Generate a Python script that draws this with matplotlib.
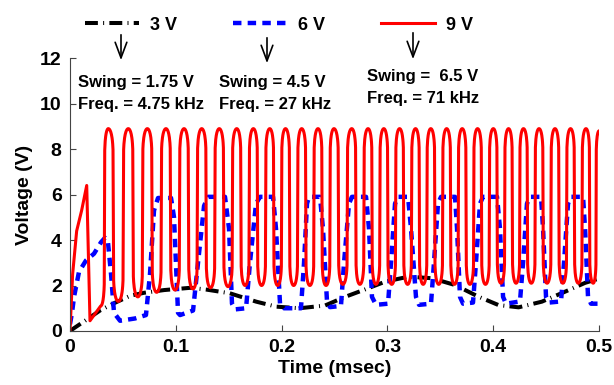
import numpy as np
import matplotlib
matplotlib.use("Agg")
import matplotlib.pyplot as plt

plt.rcParams['font.family'] = ['Liberation Sans', 'DejaVu Sans']
plt.rcParams['font.weight'] = 'bold'

# 3 V supply: slow output (time in msec, voltage in V)
t_3v = [0, 0.004, 0.018, 0.029, 0.042, 0.057, 0.070, 0.089, 0.114, 0.129, 0.151,
        0.176, 0.195, 0.217, 0.241, 0.260, 0.279, 0.298, 0.320, 0.342, 0.364,
        0.386, 0.405, 0.424, 0.446, 0.468, 0.487, 0.5]
v_3v = [0.0, 0.13, 0.57, 0.92, 1.23, 1.55, 1.68, 1.8, 1.9, 1.82, 1.66,
        1.29, 1.07, 1.0, 1.12, 1.5, 1.83, 2.17, 2.39, 2.32, 2.02,
        1.51, 1.14, 1.04, 1.29, 1.73, 2.12, 2.3]

# 6 V supply
t_6v = [0, 0.0019, 0.0038, 0.0085, 0.0151, 0.0227, 0.0293, 0.0331, 0.0359, 0.0388,
        0.0416, 0.0473, 0.0614, 0.0718, 0.0756, 0.0794, 0.0832, 0.0955, 0.0983, 0.1021,
        0.1040, 0.1163, 0.1210, 0.1267, 0.1304, 0.1465, 0.1503, 0.1531, 0.1560, 0.1664,
        0.1701, 0.1758, 0.1796, 0.1919, 0.1947, 0.1985, 0.2023, 0.2183, 0.2212, 0.2240,
        0.2259, 0.2363, 0.2391, 0.2429, 0.2457, 0.2561, 0.2590, 0.2637, 0.2665, 0.2798,
        0.2826, 0.2854, 0.2892, 0.3006, 0.3034, 0.3072, 0.3100, 0.3195, 0.3223, 0.3270,
        0.3299, 0.3412, 0.3440, 0.3478, 0.3507, 0.3639, 0.3658, 0.3686, 0.3715, 0.3809,
        0.3837, 0.3875, 0.3904, 0.4036, 0.4064, 0.4093, 0.4121, 0.4253, 0.4282, 0.4319,
        0.4348, 0.4452, 0.4471, 0.4499, 0.4527, 0.4641, 0.4669, 0.4707, 0.4735, 0.4849,
        0.4868, 0.4896, 0.4924, 0.5]
v_6v = [0.3, 0.8, 1.5, 2.6, 3.1, 3.4, 3.9, 4.1, 3.9, 2.5,
        0.8, 0.45, 0.55, 0.7, 2.5, 5.3, 5.85, 5.85, 5.0, 0.8,
        0.7, 0.9, 3.0, 5.5, 5.9, 5.9, 4.5, 1.2, 0.95, 1.0,
        3.0, 5.6, 5.9, 5.9, 4.5, 1.2, 1.0, 1.0, 3.0, 5.6,
        5.9, 5.9, 4.5, 1.3, 1.05, 1.1, 3.0, 5.6, 5.9, 5.9,
        4.5, 1.5, 1.15, 1.2, 3.0, 5.6, 5.9, 5.9, 4.5, 1.5,
        1.15, 1.2, 3.0, 5.6, 5.9, 5.9, 4.5, 1.5, 1.2, 1.25,
        3.0, 5.6, 5.9, 5.9, 4.5, 1.5, 1.2, 1.3, 3.0, 5.6,
        5.9, 5.9, 4.5, 1.5, 1.25, 1.3, 3.0, 5.6, 5.9, 5.9,
        4.5, 1.5, 1.2, 1.2]

# 9 V supply: start-up transient, then peak / trough turning points
t_9v_start = [0, 0.0025, 0.0063, 0.011, 0.0158, 0.0189, 0.029]
v_9v_start = [0.0, 2.5, 4.4, 5.3, 6.4, 0.45, 1.1]
t_9v_peak = [0.0362, 0.0551, 0.0731, 0.0907, 0.1078, 0.1245, 0.1411, 0.1576, 0.1733, 0.1888,
             0.2037, 0.2190, 0.2344, 0.2495, 0.2663, 0.2817, 0.2966, 0.3115, 0.3266, 0.3410,
             0.3560, 0.3707, 0.3852, 0.4001, 0.4145, 0.4286, 0.4433, 0.4584, 0.4731, 0.4877]
v_9v_peak = [8.9] * 30
t_9v_trough = [0.0457, 0.0641, 0.0819, 0.0993, 0.1162, 0.1328, 0.1494, 0.1655, 0.1811, 0.1963,
               0.2114, 0.2267, 0.2420, 0.2579, 0.2740, 0.2892, 0.3041, 0.3191, 0.3338, 0.3485,
               0.3634, 0.3780, 0.3927, 0.4073, 0.4216, 0.4360, 0.4509, 0.4658, 0.4804, 0.4945]
v_9v_trough = [1.3, 1.5, 1.7, 1.8, 1.85, 1.9, 1.95, 2.0, 2.0, 2.0,
               2.0, 2.0, 2.0, 2.05, 2.05, 2.05, 2.05, 2.05, 2.05, 2.05,
               2.05, 2.05, 2.05, 2.1, 2.1, 2.1, 2.1, 2.1, 2.1, 2.1]
t_9v_end, v_9v_end = 0.5, 8.8

notes = [("Swing = 1.75 V", "Freq. = 4.75 kHz"),
         ("Swing = 4.5 V", "Freq. = 27 kHz"),
         ("Swing =  6.5 V", "Freq. = 71 kHz")]


def squared_path(tv, vv, p=0.12, n=32):
    # join turning points with a flattened half-cosine (steep edges, flat tops)
    ts, vs = [], []
    s = np.linspace(0, 1, n, endpoint=False)
    c = np.cos(np.pi * s)
    g = 0.5 - 0.5 * np.sign(c) * np.abs(c) ** p
    for i in range(len(tv) - 1):
        ts.append(tv[i] + (tv[i + 1] - tv[i]) * s)
        vs.append(vv[i] + (vv[i + 1] - vv[i]) * g)
    ts.append([tv[-1]])
    vs.append([vv[-1]])
    return np.concatenate(ts), np.concatenate(vs)


turn_t = [t_9v_start[-1]]
turn_v = [v_9v_start[-1]]
for tp, vp, tt, vt in zip(t_9v_peak, v_9v_peak, t_9v_trough, v_9v_trough):
    turn_t += [tp, tt]
    turn_v += [vp, vt]
turn_t.append(t_9v_end)
turn_v.append(v_9v_end)
osc_t, osc_v = squared_path(turn_t, turn_v)
t_9v = np.concatenate([t_9v_start[:-1], osc_t])
v_9v = np.concatenate([v_9v_start[:-1], osc_v])

fig = plt.figure(figsize=(6.14, 3.85), dpi=100)
ax = fig.add_axes([0.114, 0.1403, 0.8616, 0.7087])

l3, = ax.plot(t_3v, v_3v, color='black', lw=2.9,
              linestyle=(0, (3.2, 1.3, 0.25, 1.3)), dash_capstyle='butt', label='3 V')
l6, = ax.plot(t_6v, v_6v, color='blue', lw=3.2,
              linestyle=(0, (1.9, 1.4)), dash_capstyle='butt', label='6 V')
l9, = ax.plot(t_9v, v_9v, color='red', lw=2.2, label='9 V')

ax.set_xlim(0, 0.5)
ax.set_ylim(0, 12)
ax.set_xticks([0, 0.1, 0.2, 0.3, 0.4, 0.5])
ax.set_xticklabels(['0', '0.1', '0.2', '0.3', '0.4', '0.5'])
ax.set_yticks([0, 2, 4, 6, 8, 10, 12])
ax.tick_params(direction='in', length=4, width=0.8, color='#444444', labelsize=14, pad=6)
for lab in ax.get_xticklabels() + ax.get_yticklabels():
    lab.set_fontweight('bold')
ax.spines['top'].set_visible(False)
ax.spines['right'].set_visible(False)
for sp in ('left', 'bottom'):
    ax.spines[sp].set_color('#444444')
    ax.spines[sp].set_linewidth(0.8)
ax.set_xlabel('Time (msec)', fontsize=14, fontweight='bold', labelpad=3)
ax.set_ylabel('Voltage (V)', fontsize=14, fontweight='bold', labelpad=5)

leg = fig.legend(handles=[l3, l6, l9], loc='center left', ncol=3, frameon=False,
                 bbox_to_anchor=(85 / 614, 1 - 25 / 385), borderpad=0, borderaxespad=0,
                 handlelength=3.0, handletextpad=0.6, columnspacing=3.1,
                 prop={'size': 13, 'weight': 'bold'})

# arrows from the legend entries down to the annotations
for x, y0, y1 in [(121, 32, 63), (267, 35, 66), (413, 30, 62)]:
    ax.annotate('', xy=(x / 614, 1 - y1 / 385), xytext=(x / 614, 1 - y0 / 385),
                xycoords='figure fraction', textcoords='figure fraction',
                arrowprops=dict(arrowstyle='->,head_length=0.8,head_width=0.3',
                                lw=1.2, color='black', mutation_scale=14))

for (swing, freq), x, y in zip(notes, [78, 219, 367], [82, 82, 77]):
    fig.text(x / 614, 1 - y / 385, swing, fontsize=12, fontweight='bold', va='center')
    fig.text(x / 614, 1 - (y + 22) / 385, freq, fontsize=12, fontweight='bold', va='center')

fig.savefig('out.png', dpi=100)
